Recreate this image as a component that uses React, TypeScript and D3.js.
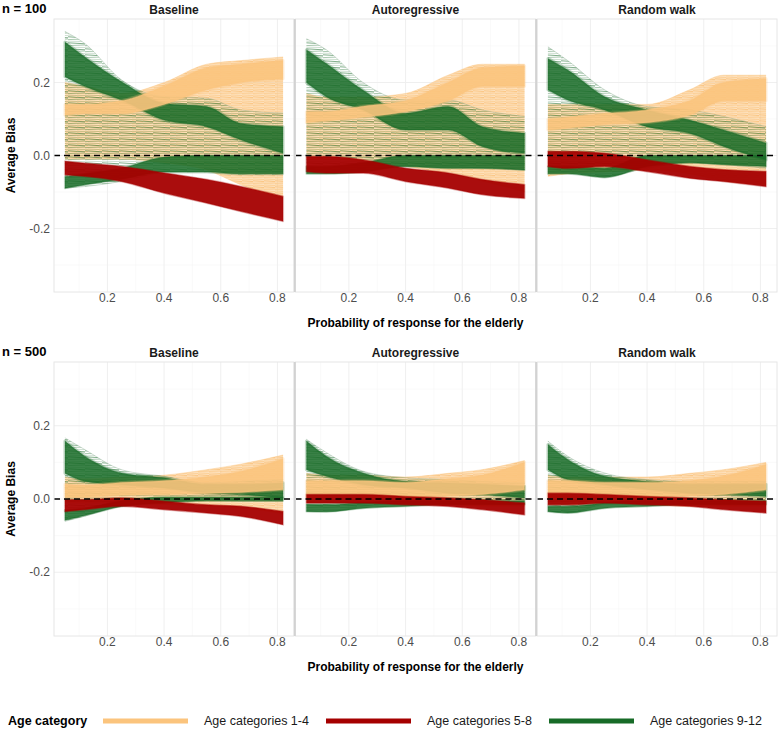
import React, { useEffect, useRef } from "react";
import * as d3 from "d3";

// response probability of the elderly at which each curve was evaluated
const probs = [0.05, 0.12, 0.25, 0.4, 0.55, 0.67, 0.82];

const models = ["Baseline", "Autoregressive", "Random walk"];
const sampleSizes = ["n = 100", "n = 500"];
const ageGroups = ["Age categories 1-4", "Age categories 5-8", "Age categories 9-12"];
const xTicks = [0.2, 0.4, 0.6, 0.8];
const xMinor = [0.1, 0.3, 0.5, 0.7];
const yTicks = [-0.2, 0.0, 0.2];
const yMinor = [-0.3, -0.1, 0.1, 0.3];

// bands of the simulated curves, [upper, lower] at each prob.
// panel order: n=100 Baseline, AR, RW, then n=500 Baseline, AR, RW
const orangeSpread = [
  [[0.2, -0.01], [0.19, -0.01], [0.17, -0.01], [0.2, -0.02], [0.25, -0.04], [0.26, -0.08], [0.27, -0.12]],
  [[0.17, -0.01], [0.16, -0.01], [0.16, -0.015], [0.17, -0.03], [0.22, -0.05], [0.25, -0.07], [0.25, -0.1]],
  [[0.14, -0.057], [0.14, -0.05], [0.14, -0.045], [0.14, -0.04], [0.18, -0.05], [0.22, -0.07], [0.22, -0.08]],
  [[0.06, -0.01], [0.055, -0.01], [0.06, -0.01], [0.065, -0.015], [0.08, -0.02], [0.095, -0.025], [0.12, -0.04]],
  [[0.07, -0.01], [0.065, -0.01], [0.065, -0.01], [0.06, -0.015], [0.07, -0.015], [0.08, -0.02], [0.105, -0.02]],
  [[0.065, -0.015], [0.06, -0.015], [0.06, -0.012], [0.06, -0.015], [0.07, -0.02], [0.08, -0.02], [0.1, -0.02]],
];

const orangeCore = [
  [[0.14, 0.11], [0.14, 0.115], [0.15, 0.115], [0.19, 0.14], [0.24, 0.18], [0.25, 0.2], [0.26, 0.21]],
  [[0.12, 0.09], [0.12, 0.095], [0.135, 0.105], [0.15, 0.12], [0.2, 0.15], [0.24, 0.19], [0.245, 0.19]],
  [[0.1, 0.07], [0.105, 0.075], [0.115, 0.085], [0.125, 0.09], [0.15, 0.11], [0.2, 0.15], [0.21, 0.15]],
  [[0.04, 0.005], [0.038, 0.005], [0.045, 0.01], [0.05, 0.012], [0.06, 0.015], [0.075, 0.018], [0.11, 0.025]],
  [[0.05, 0.005], [0.05, 0.005], [0.05, 0.005], [0.045, 0.005], [0.055, 0.008], [0.065, 0.012], [0.1, 0.025]],
  [[0.05, 0.005], [0.05, 0.005], [0.045, 0.005], [0.045, 0.005], [0.05, 0.008], [0.062, 0.012], [0.094, 0.025]],
];

const greenSpread = [
  [[0.34, -0.089], [0.307, -0.085], [0.207, -0.071], [0.161, -0.048], [0.157, -0.048], [0.125, -0.053], [0.116, -0.053]],
  [[0.32, -0.048], [0.29, -0.045], [0.2, -0.04], [0.152, -0.03], [0.152, -0.03], [0.125, -0.035], [0.107, -0.039]],
  [[0.298, -0.048], [0.26, -0.045], [0.18, -0.057], [0.134, -0.035], [0.125, -0.02], [0.107, -0.025], [0.079, -0.035]],
  [[0.167, -0.061], [0.135, -0.047], [0.08, -0.02], [0.062, -0.012], [0.044, -0.005], [0.048, -0.006], [0.053, -0.006]],
  [[0.163, -0.034], [0.127, -0.034], [0.076, -0.02], [0.058, -0.011], [0.053, -0.011], [0.048, -0.011], [0.044, -0.011]],
  [[0.158, -0.034], [0.117, -0.038], [0.071, -0.015], [0.053, -0.011], [0.048, -0.011], [0.048, -0.011], [0.048, -0.006]],
];

const greenCore = [
  [[0.311, 0.216], [0.27, 0.19], [0.202, 0.152], [0.143, 0.097], [0.134, 0.079], [0.088, 0.043], [0.079, 0.006]],
  [[0.29, 0.2], [0.252, 0.161], [0.179, 0.125], [0.116, 0.07], [0.134, 0.07], [0.079, 0.025], [0.061, 0.006]],
  [[0.266, 0.18], [0.234, 0.152], [0.161, 0.125], [0.125, 0.079], [0.097, 0.061], [0.07, 0.025], [0.034, -0.012]],
  [[0.158, 0.07], [0.117, 0.048], [0.071, 0.039], [0.058, 0.03], [0.04, 0.016], [0.04, 0.012], [0.044, 0.003]],
  [[0.158, 0.08], [0.117, 0.062], [0.071, 0.039], [0.048, 0.03], [0.044, 0.016], [0.04, 0.012], [0.035, 0.003]],
  [[0.149, 0.08], [0.108, 0.053], [0.062, 0.039], [0.048, 0.026], [0.04, 0.016], [0.04, 0.012], [0.04, 0.007]],
];

const greenLow = [
  [[-0.058, -0.09], [-0.05, -0.08], [-0.035, -0.065], [-0.005, -0.045], [0.0, -0.045], [0.0, -0.05], [0.0, -0.05]],
  [[-0.03, -0.05], [-0.03, -0.05], [-0.02, -0.045], [0.0, -0.03], [0.0, -0.035], [0.0, -0.035], [0.0, -0.04]],
  [[-0.03, -0.05], [-0.03, -0.05], [-0.035, -0.06], [0.0, -0.03], [0.0, -0.02], [0.0, -0.025], [0.0, -0.03]],
  [[-0.03, -0.058], [-0.025, -0.045], [-0.005, -0.02], [0.005, -0.01], [0.005, -0.005], [0.005, -0.005], [0.005, -0.005]],
  [[-0.015, -0.034], [-0.015, -0.035], [-0.01, -0.025], [-0.005, -0.02], [-0.005, -0.015], [-0.005, -0.015], [-0.005, -0.015]],
  [[-0.02, -0.034], [-0.02, -0.038], [-0.01, -0.025], [-0.005, -0.02], [-0.005, -0.015], [-0.005, -0.015], [-0.005, -0.015]],
];

const redBand = [
  [[-0.016, -0.053], [-0.021, -0.057], [-0.03, -0.071], [-0.048, -0.103], [-0.066, -0.13], [-0.085, -0.153], [-0.112, -0.18]],
  [[-0.003, -0.044], [-0.003, -0.048], [-0.012, -0.048], [-0.035, -0.071], [-0.048, -0.089], [-0.066, -0.107], [-0.08, -0.117]],
  [[0.011, -0.03], [0.011, -0.035], [0.006, -0.03], [-0.012, -0.044], [-0.03, -0.062], [-0.039, -0.071], [-0.044, -0.085]],
  [[-0.002, -0.034], [-0.002, -0.029], [0.003, -0.02], [-0.006, -0.029], [-0.016, -0.038], [-0.02, -0.047], [-0.034, -0.07]],
  [[0.012, -0.011], [0.012, -0.011], [0.012, -0.011], [0.007, -0.016], [0.003, -0.02], [-0.002, -0.029], [-0.011, -0.043]],
  [[0.016, -0.016], [0.016, -0.016], [0.012, -0.011], [0.007, -0.016], [0.003, -0.02], [-0.002, -0.029], [-0.006, -0.038]],
];

const ORANGE = "#FBC47D";
const RED = "#A50000";
const GREEN = "#176B27";
const groupColors = [ORANGE, RED, GREEN];

const panelX = [[54, 294], [295.5, 535.5], [537, 777]];
const panelY = [[19, 292], [362, 636]];
const FONT = "'Liberation Sans', Arial, sans-serif";

const SpaghettiChart = () => {
  const ref = useRef<SVGSVGElement>(null);

  useEffect(() => {
    if (!ref.current) return;
    const svg = d3.select(ref.current);
    svg.selectAll("*").remove();

    // line textures standing in for the hundreds of thin simulation curves
    const defs = svg.append("defs");
    const orangeTex = defs.append("pattern")
      .attr("id", "tex-orange").attr("patternUnits", "userSpaceOnUse")
      .attr("width", 11).attr("height", 6);
    orangeTex.append("rect").attr("width", 11).attr("height", 6)
      .attr("fill", ORANGE).attr("fill-opacity", 0.5);
    [[0.8, 1.5, 0.9], [3.3, 3.0, 0.75], [5.0, 5.5, 0.6]].forEach(([a, b, o]) => {
      orangeTex.append("line").attr("x1", 0).attr("x2", 11).attr("y1", a).attr("y2", b)
        .attr("stroke", ORANGE).attr("stroke-width", 1).attr("stroke-opacity", o);
    });
    const greenTex = defs.append("pattern")
      .attr("id", "tex-green").attr("patternUnits", "userSpaceOnUse")
      .attr("width", 17).attr("height", 6);
    [[0.8, 1.8, 0.6, 0.9], [3.6, 3.0, 0.45, 0.8], [5.2, 5.6, 0.3, 0.7]].forEach(([a, b, o, w]) => {
      greenTex.append("line").attr("x1", 0).attr("x2", 17).attr("y1", a).attr("y2", b)
        .attr("stroke", GREEN).attr("stroke-width", w).attr("stroke-opacity", o);
    });

    sampleSizes.forEach((label, r) => {
      const [top, bottom] = panelY[r];
      const y = d3.scaleLinear().domain([-0.374, 0.374]).range([bottom, top]);

      svg.append("text")
        .attr("x", 2).attr("y", top - 6)
        .attr("font-family", FONT).attr("font-size", 13).attr("font-weight", "bold")
        .attr("fill", "#000").text(label);

      models.forEach((model, c) => {
        const idx = r * 3 + c;
        const [left, right] = panelX[c];
        const x = d3.scaleLinear().domain([0.0115, 0.8585]).range([left, right]);
        const g = svg.append("g");

        // grid
        g.selectAll(".xminor").data(xMinor).enter().append("line")
          .attr("x1", (d) => x(d)).attr("x2", (d) => x(d))
          .attr("y1", top).attr("y2", bottom)
          .attr("stroke", "#f7f7f7").attr("stroke-width", 0.6);
        g.selectAll(".yminor").data(yMinor).enter().append("line")
          .attr("x1", left).attr("x2", right)
          .attr("y1", (d) => y(d)).attr("y2", (d) => y(d))
          .attr("stroke", "#f7f7f7").attr("stroke-width", 0.6);
        g.selectAll(".xmajor").data(xTicks).enter().append("line")
          .attr("x1", (d) => x(d)).attr("x2", (d) => x(d))
          .attr("y1", top).attr("y2", bottom)
          .attr("stroke", "#efefef").attr("stroke-width", 1);
        g.selectAll(".ymajor").data(yTicks).enter().append("line")
          .attr("x1", left).attr("x2", right)
          .attr("y1", (d) => y(d)).attr("y2", (d) => y(d))
          .attr("stroke", "#efefef").attr("stroke-width", 1);

        const area = d3.area<number[]>()
          .x((_, i) => x(probs[i]))
          .y0((d) => y(d[1]))
          .y1((d) => y(d[0]))
          .curve(d3.curveMonotoneX);
        const upper = d3.line<number[]>().x((_, i) => x(probs[i])).y((d) => y(d[0])).curve(d3.curveMonotoneX);
        const lower = d3.line<number[]>().x((_, i) => x(probs[i])).y((d) => y(d[1])).curve(d3.curveMonotoneX);

        const band = (data: number[][], fill: string, op: number, color: string, edgeOp: number, halo = 0) => {
          if (halo > 0) {
            g.append("path").attr("d", area(data) as string)
              .attr("fill", "none").attr("stroke", color)
              .attr("stroke-width", halo).attr("stroke-opacity", 0.25)
              .attr("stroke-linejoin", "round");
          }
          g.append("path").attr("d", area(data) as string)
            .attr("fill", fill).attr("fill-opacity", op);
          [upper, lower].forEach((ln) => {
            g.append("path").attr("d", ln(data) as string)
              .attr("fill", "none").attr("stroke", color)
              .attr("stroke-width", 0.7).attr("stroke-opacity", edgeOp);
          });
        };

        band(orangeSpread[idx], "url(#tex-orange)", 1, ORANGE, 0.6);
        band(greenSpread[idx], "url(#tex-green)", 1, "#6f9a78", 0.45);
        band(greenLow[idx], GREEN, 0.85, GREEN, 0.5, 2);
        band(greenCore[idx], GREEN, 0.85, GREEN, 0.5, 3);
        band(orangeCore[idx], ORANGE, 0.9, ORANGE, 0.6, 3);
        band(redBand[idx], RED, 0.95, RED, 0.6, 2);

        // reference line at zero bias
        g.append("line")
          .attr("x1", left).attr("x2", right)
          .attr("y1", y(0)).attr("y2", y(0))
          .attr("stroke", "#000").attr("stroke-width", 1.6)
          .attr("stroke-dasharray", "6,4");

        // panel border
        g.append("rect")
          .attr("x", left).attr("y", top)
          .attr("width", right - left).attr("height", bottom - top)
          .attr("fill", "none").attr("stroke", "#e6e6e6").attr("stroke-width", 1);

        // strip title
        g.append("text")
          .attr("x", (left + right) / 2).attr("y", top - 5)
          .attr("text-anchor", "middle")
          .attr("font-family", FONT).attr("font-size", 12).attr("font-weight", "bold")
          .attr("fill", "#1a1a1a").text(model);

        // x tick labels
        g.selectAll(".xlab").data(xTicks).enter().append("text")
          .attr("x", (d) => x(d)).attr("y", bottom + 10)
          .attr("text-anchor", "middle")
          .attr("font-family", FONT).attr("font-size", 12)
          .attr("fill", "#4d4d4d").text((d) => d.toFixed(1));

        if (c === 0) {
          g.selectAll(".ylab").data(yTicks).enter().append("text")
            .attr("x", left - 4).attr("y", (d) => y(d))
            .attr("dy", "0.35em")
            .attr("text-anchor", "end")
            .attr("font-family", FONT).attr("font-size", 12)
            .attr("fill", "#4d4d4d").text((d) => d.toFixed(1));

          g.append("text")
            .attr("transform", `translate(15,${(top + bottom) / 2}) rotate(-90)`)
            .attr("text-anchor", "middle")
            .attr("font-family", FONT).attr("font-size", 12).attr("font-weight", "bold")
            .attr("fill", "#000").text("Average Bias");
        }
      });

      // separators between panels
      [panelX[0][1] + 0.75, panelX[1][1] + 0.75].forEach((sx) => {
        svg.append("line")
          .attr("x1", sx).attr("x2", sx).attr("y1", top).attr("y2", bottom)
          .attr("stroke", "#d2d2d2").attr("stroke-width", 2);
      });

      svg.append("text")
        .attr("x", (panelX[0][0] + panelX[2][1]) / 2).attr("y", bottom + 35)
        .attr("text-anchor", "middle")
        .attr("font-family", FONT).attr("font-size", 12).attr("font-weight", "bold")
        .attr("fill", "#000").text("Probability of response for the elderly");
    });

    // legend
    const legY = 721;
    svg.append("text")
      .attr("x", 8).attr("y", legY).attr("dy", "0.35em")
      .attr("font-family", FONT).attr("font-size", 12.5).attr("font-weight", "bold")
      .attr("fill", "#000").text("Age category");

    const keyX = [103, 326, 549];
    ageGroups.forEach((name, i) => {
      svg.append("line")
        .attr("x1", keyX[i]).attr("x2", keyX[i] + 85)
        .attr("y1", legY).attr("y2", legY)
        .attr("stroke", groupColors[i]).attr("stroke-width", 5);
      svg.append("text")
        .attr("x", keyX[i] + 101).attr("y", legY).attr("dy", "0.35em")
        .attr("font-family", FONT).attr("font-size", 12.5)
        .attr("fill", "#1a1a1a").text(name);
    });
  }, []);

  return (
    <svg ref={ref} width={780} height={730}
      style={{ position: "absolute", left: 0, top: 0, background: "#fff" }} />
  );
};

function App() {
  return <SpaghettiChart />;
}

export default App;
